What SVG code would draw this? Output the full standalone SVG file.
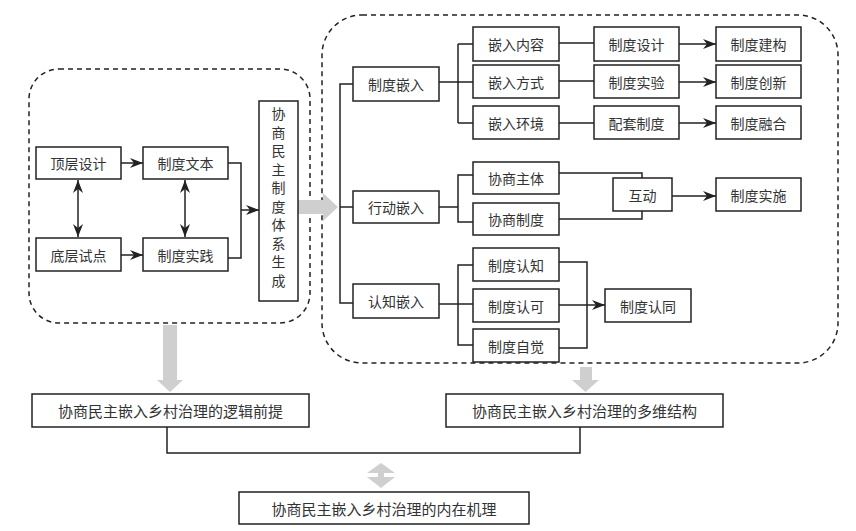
<svg xmlns="http://www.w3.org/2000/svg" width="856" height="531" viewBox="0 0 856 531">
<style>
.box{fill:#fff;stroke:#222;stroke-width:1.5}
.t{font-family:"Noto Sans CJK SC","Noto Sans",sans-serif;font-size:14px;fill:#333;text-anchor:middle;dominant-baseline:central}
.tb{font-size:15px}
.ln{fill:none;stroke:#222;stroke-width:1.5}
.dash{fill:none;stroke:#222;stroke-width:1.5;stroke-dasharray:5 4}
.gray{fill:#cfcfcf}
</style>
<defs>
<marker id="ah" markerWidth="13" markerHeight="10" refX="13" refY="5" orient="auto-start-reverse" markerUnits="userSpaceOnUse">
<path d="M0,0 L13,5 L0,10 L4,5 Z" fill="#222"/>
</marker>
</defs>
<rect width="856" height="531" fill="#fff"/>
<g id="panels">
<rect class="dash" x="29" y="69" width="281" height="254" rx="30" ry="30"/>
<rect class="dash" x="322" y="15" width="516" height="348" rx="40" ry="40"/>
</g>
<g id="gray-arrows">
<polygon class="gray" points="298,200 323,200 323,193 338,207 323,221 323,214 298,214"/>
<polygon class="gray" points="163,325 177,325 177,380 183,380 170,392 157,380 163,380"/>
<polygon class="gray" points="580,367 592,367 592,380 599,380 585.5,392 572,380 580,380"/>
<polygon class="gray" points="381,463 395,473 384,473 384,477 395,477 381,488 367,477 378,477 378,473 367,473"/>
</g>
<g id="connectors">
<path class="ln" d="M121,163 H143" marker-end="url(#ah)"/>
<path class="ln" d="M121,255 H143" marker-end="url(#ah)"/>
<path class="ln" d="M78,180 V237" marker-start="url(#ah)" marker-end="url(#ah)"/>
<path class="ln" d="M185,180 V237" marker-start="url(#ah)" marker-end="url(#ah)"/>
<path class="ln" d="M228,163 H241 V258 H228"/>
<path class="ln" d="M241,210 H259" marker-end="url(#ah)"/>
<path class="ln" d="M353,84 H340 V303 H353"/>
<path class="ln" d="M340,207 H353"/>
<path class="ln" d="M439,82 H473 M458,44 V123 M458,44 H473 M458,123 H473"/>
<path class="ln" d="M559,43 H594 M559,81 H594 M559,123 H594"/>
<path class="ln" d="M679,44 H716" marker-end="url(#ah)"/>
<path class="ln" d="M679,82 H716" marker-end="url(#ah)"/>
<path class="ln" d="M679,123 H716" marker-end="url(#ah)"/>
<path class="ln" d="M439,207 H458 M473,175 H458 V222 H473"/>
<path class="ln" d="M559,173 H642 V178 M559,219 H642 V211"/>
<path class="ln" d="M672,196 H716" marker-end="url(#ah)"/>
<path class="ln" d="M439,304 H473 M473,265 H458 V345 H473"/>
<path class="ln" d="M559,262 H587 V348 H559"/>
<path class="ln" d="M559,305 H605" marker-end="url(#ah)"/>
<path class="ln" d="M167,427 V453 H580 V427"/>
</g>
<g id="n-dingceng"><rect class="box" x="36" y="147" width="85" height="32"/><text class="t" x="78.5" y="163">顶层设计</text></g>
<g id="n-wenben"><rect class="box" x="143" y="147" width="85" height="32"/><text class="t" x="185.5" y="163">制度文本</text></g>
<g id="n-diceng"><rect class="box" x="36" y="238" width="85" height="33"/><text class="t" x="78.5" y="254.5">底层试点</text></g>
<g id="n-shijian"><rect class="box" x="143" y="238" width="85" height="33"/><text class="t" x="185.5" y="254.5">制度实践</text></g>
<g id="n-shengcheng"><rect class="box" x="259" y="101" width="39" height="200"/>
<text class="t"><tspan x="278.5" y="113">协</tspan><tspan x="278.5" y="131.5">商</tspan><tspan x="278.5" y="150">民</tspan><tspan x="278.5" y="168.5">主</tspan><tspan x="278.5" y="187">制</tspan><tspan x="278.5" y="205.5">度</tspan><tspan x="278.5" y="224">体</tspan><tspan x="278.5" y="242.5">系</tspan><tspan x="278.5" y="261">生</tspan><tspan x="278.5" y="279.5">成</tspan></text></g>
<g id="n-zhidu-qianru"><rect class="box" x="353" y="67" width="86" height="34"/><text class="t" x="396" y="84">制度嵌入</text></g>
<g id="n-xingdong"><rect class="box" x="353" y="191" width="86" height="32"/><text class="t" x="396" y="207">行动嵌入</text></g>
<g id="n-renzhi"><rect class="box" x="353" y="284" width="86" height="34"/><text class="t" x="396" y="301">认知嵌入</text></g>
<g id="n-neirong"><rect class="box" x="473" y="27" width="86" height="34"/><text class="t" x="516" y="44">嵌入内容</text></g>
<g id="n-fangshi"><rect class="box" x="473" y="65" width="86" height="33"/><text class="t" x="516" y="81.5">嵌入方式</text></g>
<g id="n-huanjing"><rect class="box" x="473" y="106" width="86" height="33"/><text class="t" x="516" y="122.5">嵌入环境</text></g>
<g id="n-sheji"><rect class="box" x="594" y="27" width="85" height="34"/><text class="t" x="636.5" y="44">制度设计</text></g>
<g id="n-shiyan"><rect class="box" x="594" y="65" width="85" height="33"/><text class="t" x="636.5" y="81.5">制度实验</text></g>
<g id="n-peitao"><rect class="box" x="594" y="106" width="85" height="33"/><text class="t" x="636.5" y="122.5">配套制度</text></g>
<g id="n-jiangou"><rect class="box" x="716" y="27" width="85" height="34"/><text class="t" x="758.5" y="44">制度建构</text></g>
<g id="n-chuangxin"><rect class="box" x="716" y="65" width="85" height="33"/><text class="t" x="758.5" y="81.5">制度创新</text></g>
<g id="n-ronghe"><rect class="box" x="716" y="106" width="85" height="33"/><text class="t" x="758.5" y="122.5">制度融合</text></g>
<g id="n-zhuti"><rect class="box" x="473" y="162" width="86" height="32"/><text class="t" x="516" y="178">协商主体</text></g>
<g id="n-xsz"><rect class="box" x="473" y="203" width="86" height="32"/><text class="t" x="516" y="219">协商制度</text></g>
<g id="n-hudong"><rect class="box" x="613" y="178" width="59" height="33"/><text class="t" x="642.5" y="194.5">互动</text></g>
<g id="n-shishi"><rect class="box" x="716" y="178" width="85" height="33"/><text class="t" x="758.5" y="194.5">制度实施</text></g>
<g id="n-renzhi2"><rect class="box" x="473" y="248" width="86" height="33"/><text class="t" x="516" y="264.5">制度认知</text></g>
<g id="n-renke"><rect class="box" x="473" y="289" width="86" height="33"/><text class="t" x="516" y="305.5">制度认可</text></g>
<g id="n-zijue"><rect class="box" x="473" y="329" width="86" height="33"/><text class="t" x="516" y="345.5">制度自觉</text></g>
<g id="n-rentong"><rect class="box" x="605" y="289" width="86" height="33"/><text class="t" x="648" y="305.5">制度认同</text></g>
<g id="n-luoji"><rect class="box" x="32" y="394" width="277" height="33"/><text class="t tb" x="170.5" y="410.5">协商民主嵌入乡村治理的逻辑前提</text></g>
<g id="n-duowei"><rect class="box" x="446" y="394" width="277" height="33"/><text class="t tb" x="584.5" y="410.5">协商民主嵌入乡村治理的多维结构</text></g>
<g id="n-jili"><rect class="box" x="239" y="492" width="290" height="32"/><text class="t tb" x="384" y="508">协商民主嵌入乡村治理的内在机理</text></g>
</svg>
